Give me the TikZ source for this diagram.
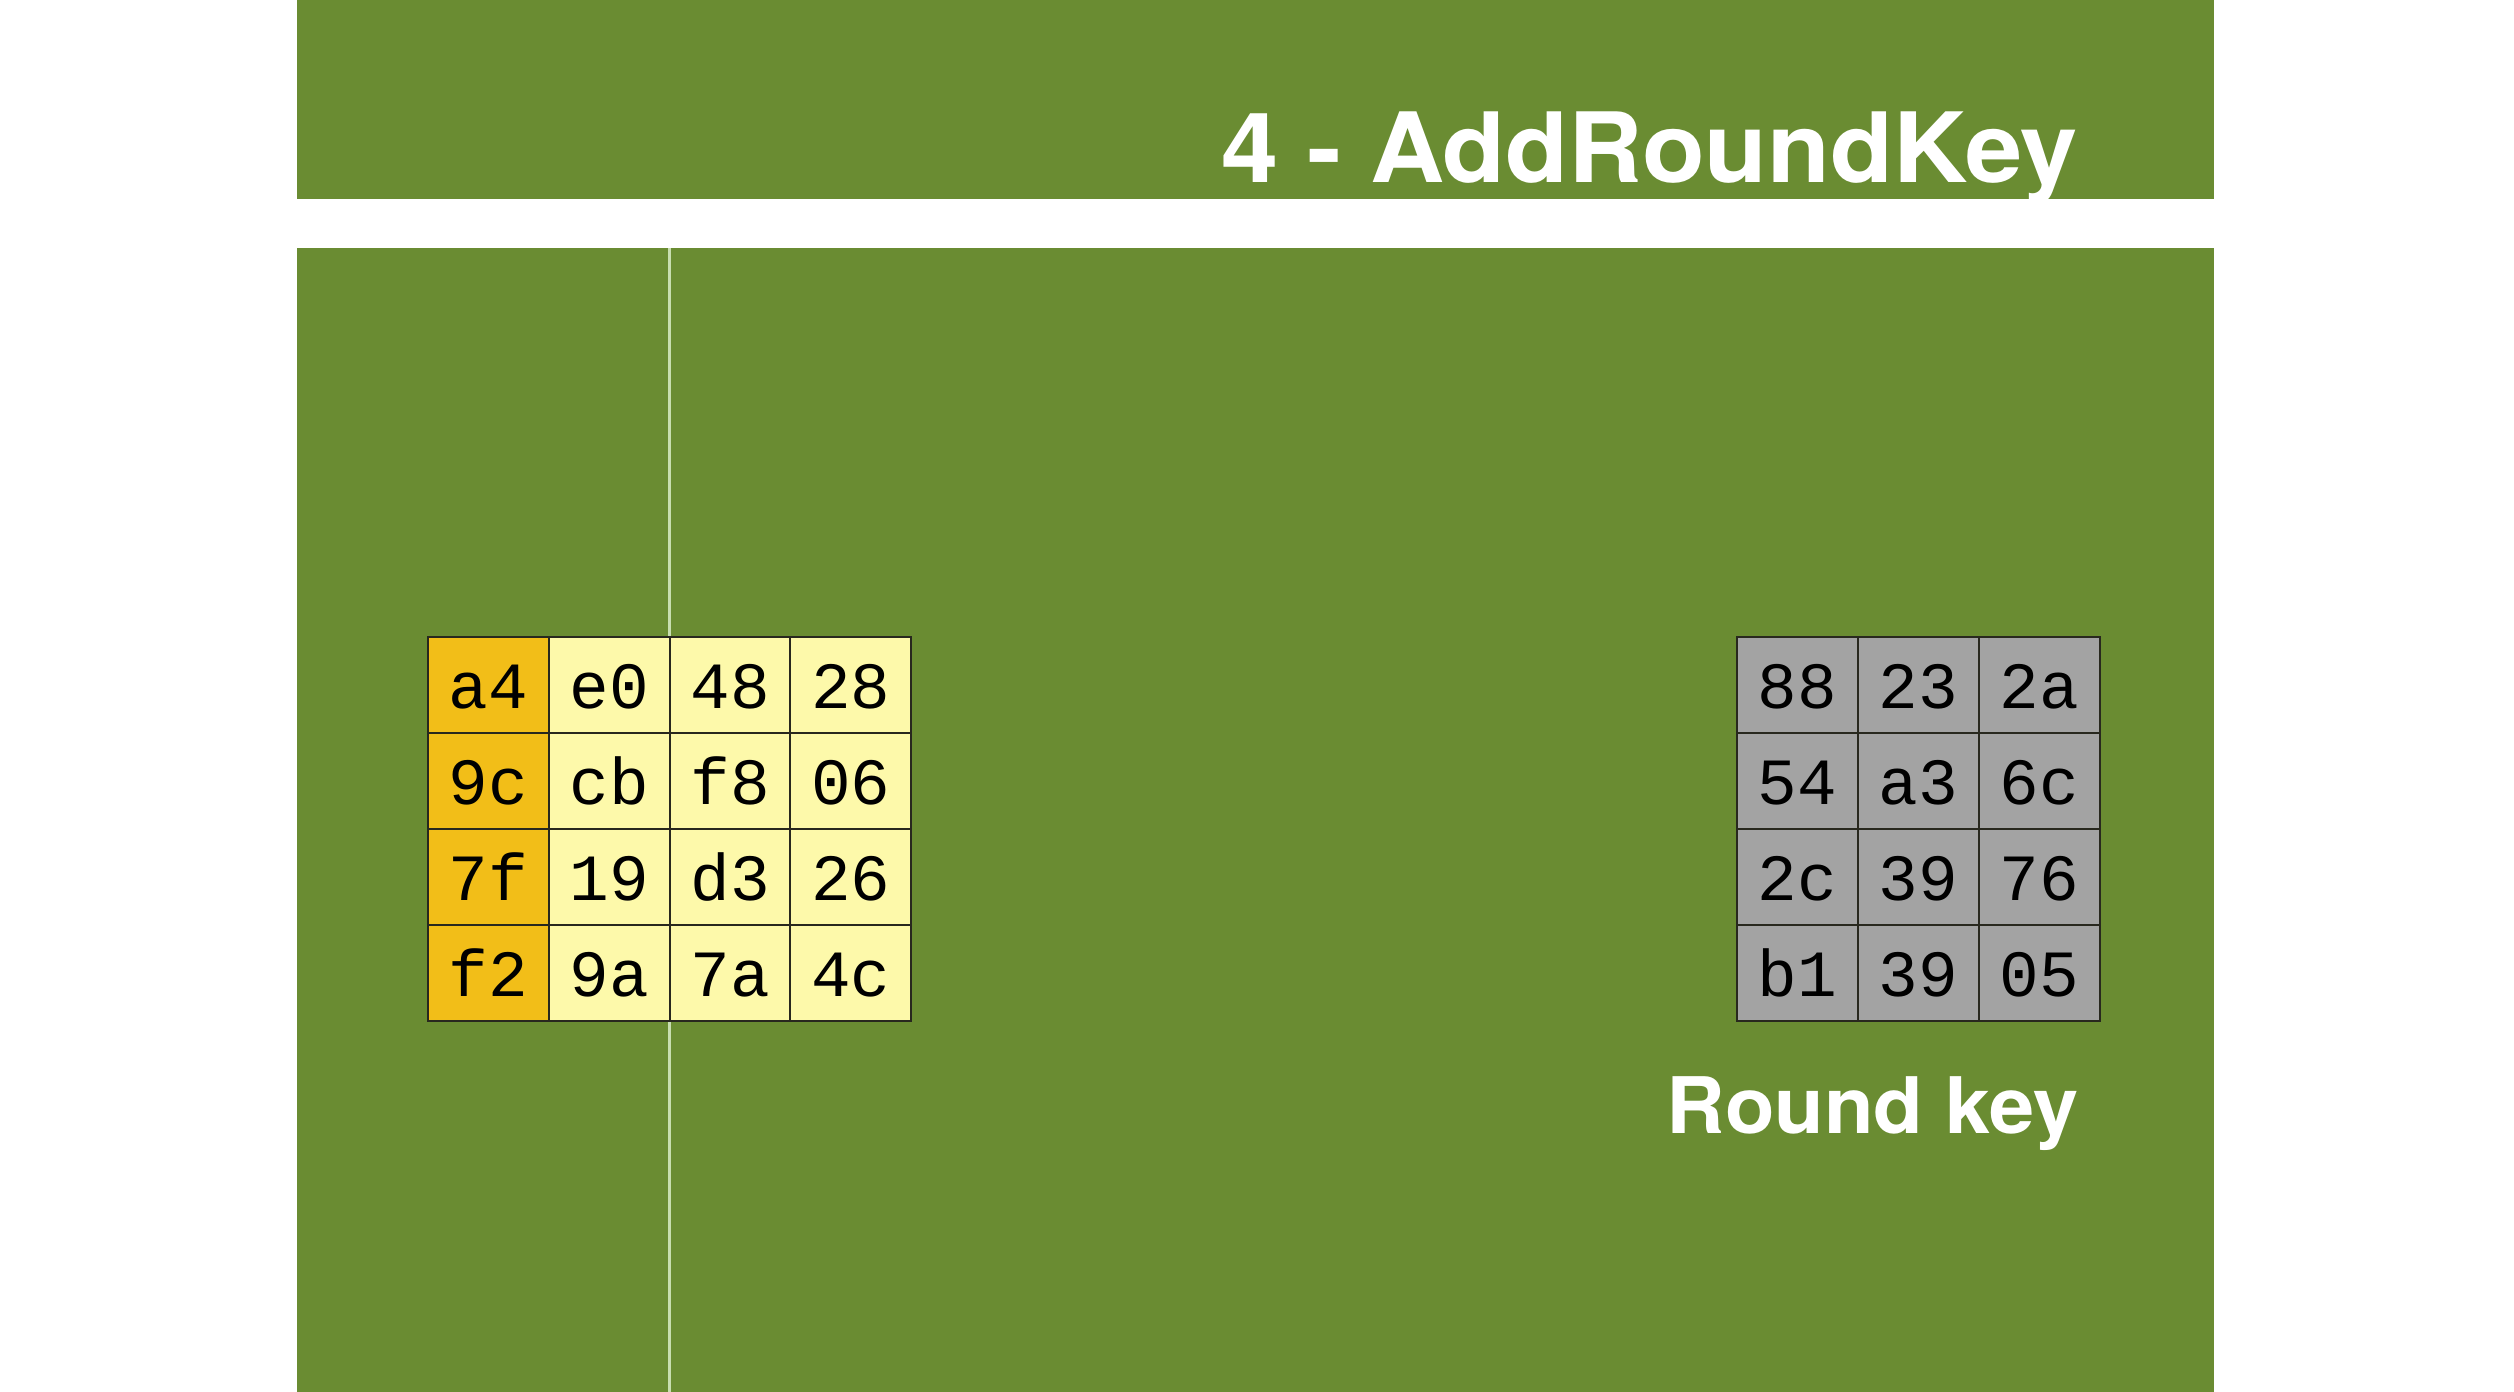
\documentclass[tikz,border=0pt]{standalone}
\usepackage{fontspec}
\setmainfont{TeX Gyre Heros}
\newfontfamily\cellfont{Liberation Mono}
\definecolor{bggreen}{RGB}{106,140,50}
\definecolor{guidecol}{RGB}{200,222,176}
\definecolor{cellorange}{RGB}{242,190,24}
\definecolor{cellyellow}{RGB}{253,249,170}
\definecolor{cellgray}{RGB}{163,163,163}
\definecolor{cellline}{RGB}{40,40,30}
\tikzset{
  cellbox/.style={draw=cellline, line width=2pt, inner sep=0pt,
    minimum width=121pt, minimum height=96pt, text height=46pt, text depth=0pt,
    font=\cellfont\fontsize{66}{66}\selectfont},
  stcol/.style={cellbox, fill=cellorange},
  stcell/.style={cellbox, fill=cellyellow},
  keycell/.style={cellbox, fill=cellgray},
  heading/.style={text=white, inner sep=0pt, font=\bfseries}
}
\begin{document}
\begin{tikzpicture}[x=1pt,y=-1pt]
\useasboundingbox (0,0) rectangle (2514,1392);
\fill[white] (0,0) rectangle (2514,1392);
\fill[bggreen] (297,0) rectangle (2214,199);
\fill[bggreen] (297,248) rectangle (2214,1392);
\coordinate (gtop) at (669,248);
\coordinate (gbot) at (669,1392);
\draw[guidecol, line width=3pt] (gtop) -- (gbot);

% state matrix
\foreach \r/\a/\b/\c/\d in {1/a4/e0/48/28, 2/9c/cb/f8/06, 3/7f/19/d3/26, 4/f2/9a/7a/4c}{
  \pgfmathsetmacro{\yy}{637+96*(\r-1)+48}
  \node[stcol]  (s\r1) at (488.5,\yy) {\a};
  \node[stcell] (s\r2) at (609.25,\yy) {\b};
  \node[stcell] (s\r3) at (730,\yy) {\c};
  \node[stcell] (s\r4) at (850.75,\yy) {\d};
}

% round key
\foreach \r/\a/\b/\c in {1/88/23/2a, 2/54/a3/6c, 3/2c/39/76, 4/b1/39/05}{
  \pgfmathsetmacro{\yy}{637+96*(\r-1)+48}
  \node[keycell] (k\r1) at (1797,\yy) {\a};
  \node[keycell] (k\r2) at (1918,\yy) {\b};
  \node[keycell] (k\r3) at (2039,\yy) {\c};
}

\node[heading, anchor=base east, font=\bfseries\fontsize{97}{97}\selectfont] (title) at (2078,182) {\scalebox{1.06}[1]{4 - AddRoundKey}};
\node[heading, anchor=base east, font=\bfseries\fontsize{78}{78}\selectfont] (rklabel) at (2079,1133) {\scalebox{1.04}[1]{Round key}};
\end{tikzpicture}
\end{document}
